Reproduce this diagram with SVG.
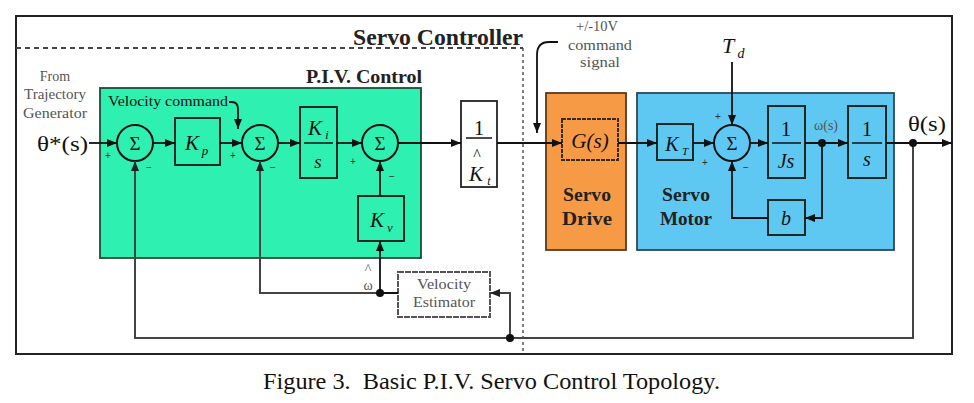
<svg xmlns="http://www.w3.org/2000/svg" width="974" height="403" viewBox="0 0 974 403">
<defs>
<marker id="arr" markerUnits="userSpaceOnUse" markerWidth="10" markerHeight="8" refX="10" refY="4" orient="auto">
<path d="M0,0 L10,4 L0,8 z" fill="#111"/>
</marker>
<marker id="arrg" markerUnits="userSpaceOnUse" markerWidth="10" markerHeight="8" refX="10" refY="4" orient="auto">
<path d="M0,0 L10,4 L0,8 z" fill="#222"/>
</marker>
</defs>
<style>
.box{stroke:#1a2a22;stroke-width:2;}
.wbox{fill:#fff;stroke:#222;stroke-width:1.8;}
.sum{stroke:#111;stroke-width:2;}
.ln{fill:none;stroke:#111;stroke-width:1.8;}
.fb{fill:none;stroke:#444;stroke-width:2;}
.lbl{font-family:"Liberation Serif","Times New Roman",serif;fill:#111;}
.it{font-style:italic;}
.small{font-family:"Liberation Serif","Times New Roman",serif;fill:#555;font-size:14px;}
.sign{font-family:"Liberation Sans",Arial,sans-serif;font-size:10px;fill:#333;text-anchor:middle;}
.bold{font-family:"Liberation Serif","Times New Roman",serif;font-weight:bold;fill:#222;}
.dot{fill:#111;}
</style>
<rect width="974" height="403" fill="#fff"/>

<g id="frame">
<rect x="16" y="16" width="936" height="338" fill="none" stroke="#222" stroke-width="2"/>
</g>

<g id="servo-controller">
<path d="M16,48 H523" fill="none" stroke="#444" stroke-width="2" stroke-dasharray="5,4"/>
<path d="M523,48 V354" fill="none" stroke="#555" stroke-width="1.5" stroke-dasharray="3,3"/>
<text class="bold" x="353" y="45" font-size="23" textLength="170" lengthAdjust="spacingAndGlyphs">Servo Controller</text>
</g>

<g id="piv-control">
<rect x="100" y="88" width="321" height="170" fill="#2EF0B0" stroke="#1f4a3a" stroke-width="1.8"/>
<text class="bold" x="306" y="83" font-size="19" textLength="116" lengthAdjust="spacingAndGlyphs">P.I.V. Control</text>
</g>

<g id="from-trajectory">
<text class="small" x="55" y="81" text-anchor="middle" font-size="14">From</text>
<text class="small" x="55" y="99" text-anchor="middle" font-size="14" textLength="62" lengthAdjust="spacingAndGlyphs">Trajectory</text>
<text class="small" x="55" y="118" text-anchor="middle" font-size="14" textLength="64" lengthAdjust="spacingAndGlyphs">Generator</text>
<text class="lbl" x="37" y="151" font-size="22" textLength="51" lengthAdjust="spacingAndGlyphs">θ*(s)</text>
</g>

<g id="sum1">
<circle cx="135" cy="143" r="18" fill="#2EF0B0" class="sum"/>
<text class="lbl" x="135" y="150" font-size="19" text-anchor="middle">Σ</text>
<text class="sign" x="108" y="159">+</text>
<text class="sign" x="149" y="171">−</text>
</g>

<g id="kp">
<rect x="175" y="118" width="45" height="47" fill="#2EF0B0" class="box"/>
<text class="lbl it" x="192" y="150" font-size="21" text-anchor="middle">K</text>
<text class="lbl it" x="205" y="155" font-size="13" text-anchor="middle">p</text>
</g>

<g id="velocity-command">
<text class="lbl" x="108" y="106" font-size="14" fill="#1a3a2a" textLength="120" lengthAdjust="spacingAndGlyphs">Velocity command</text>
</g>

<g id="sum2">
<circle cx="260" cy="143" r="18" fill="#2EF0B0" class="sum"/>
<text class="lbl" x="260" y="150" font-size="19" text-anchor="middle">Σ</text>
<text class="sign" x="233" y="159">+</text>
<text class="sign" x="273" y="171">−</text>
</g>

<g id="ki-s">
<rect x="300" y="107" width="37" height="71" fill="#2EF0B0" class="box"/>
<text class="lbl it" x="315" y="135" font-size="21" text-anchor="middle">K</text>
<text class="lbl it" x="327" y="139" font-size="12" text-anchor="middle">i</text>
<line x1="304" y1="143" x2="333" y2="143" stroke="#111" stroke-width="1.5"/>
<text class="lbl it" x="318" y="168" font-size="19" text-anchor="middle">s</text>
</g>

<g id="sum3">
<circle cx="380" cy="143" r="18" fill="#2EF0B0" class="sum"/>
<text class="lbl" x="380" y="150" font-size="19" text-anchor="middle">Σ</text>
<text class="sign" x="353" y="165">+</text>
<text class="sign" x="392" y="180">−</text>
</g>

<g id="kv">
<rect x="358" y="196" width="46" height="45" fill="#2EF0B0" class="box"/>
<text class="lbl it" x="377" y="227" font-size="21" text-anchor="middle">K</text>
<text class="lbl it" x="390" y="232" font-size="12" text-anchor="middle">v</text>
</g>

<g id="inv-kt">
<rect x="461" y="101" width="36" height="86" class="wbox"/>
<text class="lbl" x="479" y="135" font-size="21" text-anchor="middle">1</text>
<line x1="466" y1="138" x2="492" y2="138" stroke="#111" stroke-width="1.5"/>
<text class="lbl" x="477" y="160" font-size="16" text-anchor="middle">^</text>
<text class="lbl it" x="476" y="181" font-size="21" text-anchor="middle">K</text>
<text class="lbl it" x="489" y="185" font-size="12" text-anchor="middle">t</text>
</g>

<g id="command-signal">
<text class="small" x="597" y="31" text-anchor="middle" font-size="13" textLength="42" lengthAdjust="spacingAndGlyphs">+/-10V</text>
<text class="small" x="600" y="50" text-anchor="middle" font-size="13" textLength="64" lengthAdjust="spacingAndGlyphs">command</text>
<text class="small" x="600" y="67" text-anchor="middle" font-size="13" textLength="40" lengthAdjust="spacingAndGlyphs">signal</text>
</g>

<g id="servo-drive">
<rect x="546" y="93" width="80" height="157" fill="#F79A45" stroke="#5a3a1a" stroke-width="1.8"/>
<rect x="562" y="119" width="56" height="41" fill="#F79A45" stroke="#3a2a10" stroke-width="2" stroke-dasharray="4,1"/>
<text class="lbl it" x="590" y="148" font-size="21" text-anchor="middle">G(s)</text>
<text class="bold" x="587" y="201" font-size="18" text-anchor="middle" textLength="48" lengthAdjust="spacingAndGlyphs">Servo</text>
<text class="bold" x="587" y="225" font-size="18" text-anchor="middle" textLength="50" lengthAdjust="spacingAndGlyphs">Drive</text>
</g>

<g id="servo-motor">
<rect x="637" y="93" width="257" height="157" fill="#5EC8F2" stroke="#2a4a5a" stroke-width="1.8"/>
<text class="bold" x="686" y="201" font-size="18" text-anchor="middle" textLength="48" lengthAdjust="spacingAndGlyphs">Servo</text>
<text class="bold" x="686" y="225" font-size="18" text-anchor="middle" textLength="52" lengthAdjust="spacingAndGlyphs">Motor</text>
</g>

<g id="kt">
<rect x="657" y="124" width="36" height="36" fill="#5EC8F2" class="box"/>
<text class="lbl it" x="672" y="151" font-size="20" text-anchor="middle">K</text>
<text class="lbl it" x="685" y="155" font-size="11" text-anchor="middle">T</text>
</g>

<g id="td">
<text class="lbl it" x="728" y="53" font-size="22" text-anchor="middle">T</text>
<text class="lbl it" x="741" y="58" font-size="14" text-anchor="middle">d</text>
</g>

<g id="sum4">
<circle cx="732" cy="143" r="18" fill="#5EC8F2" class="sum"/>
<text class="lbl" x="732" y="150" font-size="19" text-anchor="middle">Σ</text>
<text class="sign" x="718" y="120">+</text>
<text class="sign" x="705" y="166">+</text>
<text class="sign" x="746" y="171">−</text>
</g>

<g id="inv-js">
<rect x="768" y="106" width="37" height="72" fill="#5EC8F2" class="box"/>
<text class="lbl" x="786" y="136" font-size="21" text-anchor="middle">1</text>
<line x1="772" y1="143" x2="801" y2="143" stroke="#111" stroke-width="1.5"/>
<text class="lbl it" x="786" y="168" font-size="20" text-anchor="middle">Js</text>
</g>

<g id="omega">
<text class="small" x="826" y="130" text-anchor="middle" font-size="14" fill="#333">ω(s)</text>
</g>

<g id="inv-s">
<rect x="848" y="106" width="38" height="72" fill="#5EC8F2" class="box"/>
<text class="lbl" x="867" y="136" font-size="21" text-anchor="middle">1</text>
<line x1="852" y1="143" x2="882" y2="143" stroke="#111" stroke-width="1.5"/>
<text class="lbl it" x="867" y="166" font-size="20" text-anchor="middle">s</text>
</g>

<g id="theta-out">
<text class="lbl" x="927" y="131" font-size="22" text-anchor="middle" textLength="38" lengthAdjust="spacingAndGlyphs">θ(s)</text>
</g>

<g id="b">
<rect x="768" y="200" width="37" height="35" fill="#5EC8F2" class="box"/>
<text class="lbl it" x="786" y="225" font-size="20" text-anchor="middle">b</text>
</g>

<g id="velocity-estimator">
<rect x="398" y="272" width="92" height="45" fill="#fff" stroke="#555" stroke-width="2" stroke-dasharray="6,1"/>
<text class="small" x="444" y="289" text-anchor="middle" font-size="14" textLength="54" lengthAdjust="spacingAndGlyphs">Velocity</text>
<text class="small" x="444" y="307" text-anchor="middle" font-size="14" textLength="62" lengthAdjust="spacingAndGlyphs">Estimator</text>
</g>

<g id="omega-hat">
<text class="small" x="368" y="274" text-anchor="middle" font-size="10">^</text>
<text class="small" x="368" y="290" text-anchor="middle" font-size="12">ω</text>
</g>

<g id="connectors">
<path class="ln" d="M89,143 H117" marker-end="url(#arr)"/>
<path class="ln" d="M153,143 H175" marker-end="url(#arr)"/>
<path class="ln" d="M220,143 H242" marker-end="url(#arr)"/>
<path class="ln" d="M278,143 H300" marker-end="url(#arr)"/>
<path class="ln" d="M337,143 H362" marker-end="url(#arr)"/>
<path class="ln" d="M398,143 H461" marker-end="url(#arr)"/>
<path class="ln" d="M497,143 H562" marker-end="url(#arr)"/>
<path class="ln" d="M618,143 H657" marker-end="url(#arr)"/>
<path class="ln" d="M693,143 H714" marker-end="url(#arr)"/>
<path class="ln" d="M750,143 H768" marker-end="url(#arr)"/>
<path class="ln" d="M805,143 H848" marker-end="url(#arr)"/>
<path class="ln" d="M886,143 H952" marker-end="url(#arr)"/>
<path class="ln" d="M732,62 V125" marker-end="url(#arr)"/>
<path class="ln" d="M380,196 V161" marker-end="url(#arr)"/>
<path class="ln" d="M822,143 V218 H805" marker-end="url(#arr)"/>
<path class="ln" d="M768,218 H732 V161" marker-end="url(#arr)"/>
<path class="ln" d="M229,102 H232 Q238,102 238,109 V129" marker-end="url(#arr)"/>
<path class="ln" d="M558,42 H549 Q537,42 537,55 V133" stroke-width="2" marker-end="url(#arr)"/>
<path class="fb" d="M913,143 V338 H135 V161" marker-end="url(#arrg)"/>
<path class="fb" d="M510,338 V293 H490" marker-end="url(#arrg)"/>
<path class="ln" d="M398,293 H380 V241" marker-end="url(#arr)"/>
<path class="fb" d="M380,293 H260 V161" marker-end="url(#arrg)"/>
<circle class="dot" cx="822" cy="143" r="4"/>
<circle class="dot" cx="913" cy="143" r="4"/>
<circle class="dot" cx="510" cy="338" r="4"/>
<circle class="dot" cx="380" cy="293" r="4"/>
</g>

<g id="caption">
<text class="lbl" x="263" y="389" font-size="23" xml:space="preserve" textLength="457" lengthAdjust="spacingAndGlyphs">Figure 3.  Basic P.I.V. Servo Control Topology.</text>
</g>
</svg>
